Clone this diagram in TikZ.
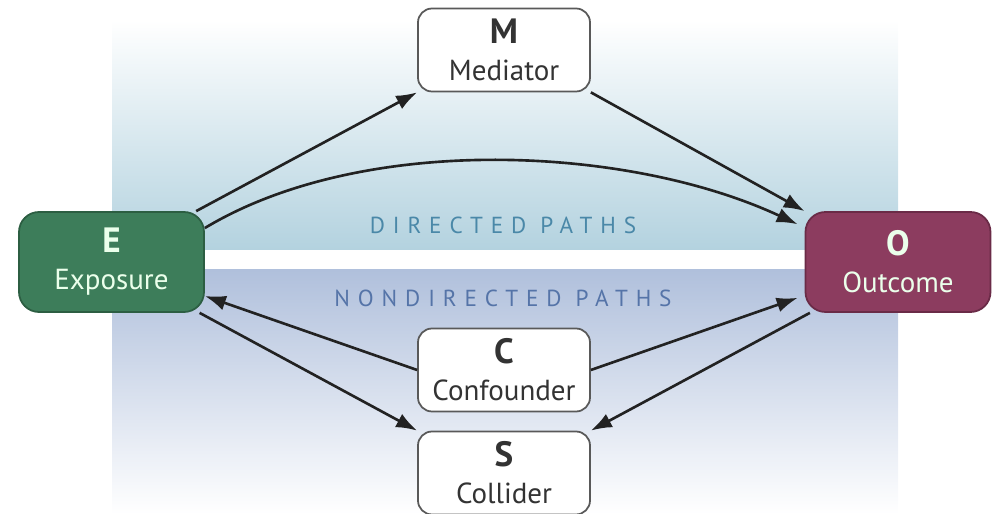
\documentclass[tikz,border=0pt]{standalone}
\usepackage{fontspec}
\setmainfont{PT Sans}
\newfontfamily\spacedfont[LetterSpace=34]{PT Sans}
\usetikzlibrary{shapes.geometric,arrows.meta}
\tikzset{>={Latex[width=3mm,length=4.2mm]}}
\definecolor{expgreen}{HTML}{3D7D5A}
\definecolor{expborder}{HTML}{2C5E42}
\definecolor{outmaroon}{HTML}{8C3C5F}
\definecolor{outborder}{HTML}{6A2B47}
\definecolor{topblue}{HTML}{B3D2DF}
\definecolor{lowblue}{HTML}{B0C0DC}
\definecolor{dirtext}{HTML}{4A88A8}
\definecolor{nondirtext}{HTML}{5574A8}
\definecolor{arrowgray}{HTML}{222222}

\begin{document}
\begin{tikzpicture}
    \tikzset{mainbox/.style={rectangle,minimum width=3.7cm ,minimum height=2cm,rounded corners =0.4cm,draw,line width=1pt,inner sep=0pt,align=center,text=white!92!green,font=\fontsize{16.5}{21}\selectfont}}
    \tikzset{varbox/.style={rectangle,minimum width=3.44cm ,minimum height=1.66cm,rounded corners =0.28cm,draw=black!65,fill=white,line width=1pt,inner sep=0pt,align=center,text=black!80,font=\fontsize{16.5}{21}\selectfont}}
    \tikzset{pathlabel/.style={font=\spacedfont\fontsize{13.2}{15}\selectfont}}
    \tikzset{link/.style={->,line width=1.5pt,draw=arrowgray}}
    \newcommand{\bigletter}[1]{{\fontsize{20}{21}\selectfont\textbf{#1}}}
    % frame and the two bands
    \useasboundingbox (0,0) rectangle (20.02,10.28);
    \shade[top color=white,bottom color=topblue] (2.24,5.28) rectangle (17.96,9.88);
    \shade[top color=lowblue,bottom color=white] (2.24,0) rectangle (17.96,4.88);
    \draw (10.06,5.78) node[pathlabel,text=dirtext](dirlabel){DIRECTED PATHS};
    \draw (10.06,4.32) node[pathlabel,text=nondirtext](nondirlabel){NONDIRECTED PATHS};
    % nodes
    \draw (2.23,5.04) node[mainbox,fill=expgreen,draw=expborder](E){\bigletter{E}\\Exposure};
    \draw (17.96,5.04) node[mainbox,fill=outmaroon,draw=outborder](O){\bigletter{O}\\Outcome};
    \draw (10.08,9.28) node[varbox](M){\bigletter{M}\\Mediator};
    \draw (10.08,2.88) node[varbox](C){\bigletter{C}\\Confounder};
    \draw (10.08,0.82) node[varbox](S){\bigletter{S}\\Collider};
    % arrows
    \draw[link](E.31) -- (M.south west);
    \draw[link](E.20) to[out=31,in=155,looseness=0.8] ([xshift=-0.14cm]O.158);
    \draw[link](M.south east) -- (O.north west);
    \draw[link](C.west) -- (E.-20);
    \draw[link](E.-30) -- (S.north west);
    \draw[link](C.east) -- ([xshift=-0.14cm]O.201);
    \draw[link](O.210) -- (S.north east);
    
  \end{tikzpicture}
\end{document}
